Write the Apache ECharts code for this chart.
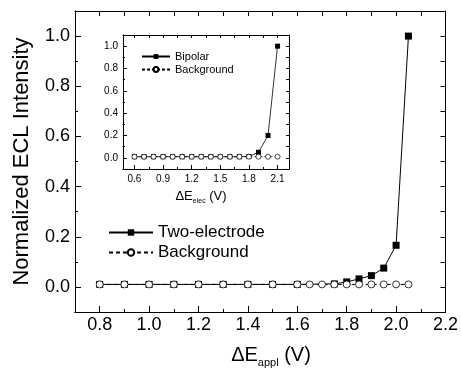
<!DOCTYPE html>
<html><head><meta charset="utf-8">
<script src="https://cdn.jsdelivr.net/npm/echarts@6.0.0/dist/echarts.min.js"></script>
<style>html,body{margin:0;padding:0;background:#fff}#c{width:461px;height:372px}</style>
</head><body><div id="c"></div>
<script>
// ---- data ----
const twoElectrodeX = [0.8, 0.9, 1.0, 1.1, 1.2, 1.3, 1.4, 1.5, 1.6, 1.75, 1.8, 1.85, 1.9, 1.95, 2.0, 2.05];
const twoElectrodeY = [0.01, 0.01, 0.01, 0.01, 0.01, 0.01, 0.01, 0.01, 0.01, 0.012, 0.02, 0.032, 0.045, 0.075, 0.166, 1.0];
const backgroundX = [0.8, 0.9, 1.0, 1.1, 1.2, 1.3, 1.4, 1.5, 1.6, 1.65, 1.7, 1.75, 1.8, 1.85, 1.9, 1.95, 2.0, 2.05];
const backgroundY = [0.01, 0.01, 0.01, 0.01, 0.01, 0.01, 0.01, 0.01, 0.01, 0.01, 0.01, 0.01, 0.01, 0.01, 0.01, 0.01, 0.01, 0.01];
const bipolarX = [0.6, 0.7, 0.8, 0.9, 1.0, 1.1, 1.2, 1.3, 1.4, 1.5, 1.6, 1.7, 1.8, 1.9, 2.0, 2.1];
const bipolarY = [0.01, 0.01, 0.01, 0.01, 0.01, 0.01, 0.01, 0.01, 0.01, 0.01, 0.01, 0.01, 0.012, 0.05, 0.2, 1.0];
const insetBgX = [0.6, 0.7, 0.8, 0.9, 1.0, 1.1, 1.2, 1.3, 1.4, 1.5, 1.6, 1.7, 1.8, 1.9, 2.0, 2.1];
const insetBgY = [0.01, 0.01, 0.01, 0.01, 0.01, 0.01, 0.01, 0.01, 0.01, 0.01, 0.01, 0.01, 0.01, 0.01, 0.01, 0.01];

// ---- tick values ----
const mainXMajor = [0.8, 1.0, 1.2, 1.4, 1.6, 1.8, 2.0, 2.2];
const mainXMinor = [0.7, 0.9, 1.1, 1.3, 1.5, 1.7, 1.9, 2.1];
const mainXTop = [0.8, 0.9, 1.0, 1.1, 1.2, 1.3, 1.4, 1.5, 1.6, 1.7, 1.8, 1.9, 2.0, 2.1];
const mainYMajor = [0.0, 0.2, 0.4, 0.6, 0.8, 1.0];
const mainYMinor = [-0.1, 0.1, 0.3, 0.5, 0.7, 0.9];
const mainYRight = [0.0, 0.1, 0.2, 0.3, 0.4, 0.5, 0.6, 0.7, 0.8, 0.9, 1.0];
const insetXMajor = [0.6, 0.9, 1.2, 1.5, 1.8, 2.1];
const insetXMinor = [0.75, 1.05, 1.35, 1.65, 1.95];
const insetXTop = [0.6, 0.75, 0.9, 1.05, 1.2, 1.35, 1.5, 1.65, 1.8, 1.95, 2.1];
const insetYMajor = [0.0, 0.2, 0.4, 0.6, 0.8, 1.0];
const insetYMinor = [0.1, 0.3, 0.5, 0.7, 0.9];
const insetYRight = [0.0, 0.1, 0.2, 0.3, 0.4, 0.5, 0.6, 0.7, 0.8, 0.9, 1.0];

const FONT = 'Liberation Sans, Arial, sans-serif';
const zip = (xs, ys) => xs.map((x, i) => [x, ys[i]]);

function ax(gridIndex, position, min, max, ticks, len, labels, fontSize, margin, extra) {
  const a = {
    type: 'value', gridIndex, position, min, max,
    axisLine: { show: true, onZero: false, lineStyle: { color: '#000', width: 1 } },
    splitLine: { show: false },
    axisTick: { show: true, inside: true, length: len, customValues: ticks, lineStyle: { color: '#000', width: 1 } },
    axisLabel: labels ? { show: true, customValues: ticks, formatter: v => Number(v).toFixed(1), color: '#000', fontSize, fontFamily: FONT, margin } : { show: false }
  };
  return Object.assign(a, extra || {});
}

const chart = echarts.init(document.getElementById('c'), null, { renderer: 'canvas' });
chart.setOption({
  animation: false,
  backgroundColor: '#fff',
  grid: [
    { left: 75, top: 11, right: 15, bottom: 60 },
    { left: 123, top: 35, right: 172, bottom: 203 }
  ],
  xAxis: [
    ax(0, 'bottom', 0.7, 2.2, mainXMinor, 3, false),
    ax(0, 'bottom', 0.7, 2.2, mainXMajor, 6, true, 18, 4),
    ax(0, 'top', 0.7, 2.2, mainXTop, 5, false),
    ax(1, 'bottom', 0.48, 2.22, insetXMinor, 2, false),
    ax(1, 'bottom', 0.48, 2.22, insetXMajor, 4, true, 10, 5),
    ax(1, 'top', 0.48, 2.22, insetXTop, 3, false)
  ],
  yAxis: [
    ax(0, 'left', -0.1, 1.1, mainYMinor, 3, false),
    ax(0, 'left', -0.1, 1.1, mainYMajor, 6, true, 18, 5, {
      name: 'Normalized ECL Intensity', nameLocation: 'middle', nameGap: 42,
      nameTextStyle: { fontSize: 22, fontFamily: FONT, color: '#000' }
    }),
    ax(0, 'right', -0.1, 1.1, mainYRight, 5, false),
    ax(1, 'left', -0.1, 1.1, insetYMinor, 2, false),
    ax(1, 'left', -0.1, 1.1, insetYMajor, 4, true, 10, 5),
    ax(1, 'right', -0.1, 1.1, insetYRight, 3, false)
  ],
  graphic: [
    {
      type: 'text', x: 271, y: 357,
      style: {
        text: '{a|ΔE}{s|appl}{a| (V)}', align: 'center', verticalAlign: 'middle',
        rich: {
          a: { fontSize: 20, fontFamily: FONT, fill: '#000', verticalAlign: 'top', lineHeight: 23 },
          s: { fontSize: 11, fontFamily: FONT, fill: '#000', verticalAlign: 'bottom', lineHeight: 11, padding: [13, 0, 0, 0] }
        }
      }
    },
    {
      type: 'text', x: 201, y: 197,
      style: {
        text: '{a|ΔE}{s|elec}{a| (V)}', align: 'center', verticalAlign: 'middle',
        rich: {
          a: { fontSize: 13, fontFamily: FONT, fill: '#000', verticalAlign: 'top', lineHeight: 15 },
          s: { fontSize: 7, fontFamily: FONT, fill: '#000', verticalAlign: 'bottom', lineHeight: 8, padding: [9, 0, 0, 0] }
        }
      }
    }
  ],
  legend: [
    {
      data: ['Two-electrode', 'Background'], orient: 'vertical', left: 103, top: 219,
      itemWidth: 44, itemHeight: 8, itemGap: 3, selectedMode: false,
      textStyle: { fontSize: 17, fontFamily: FONT, color: '#000' }
    },
    {
      data: ['Bipolar', 'Background (inset)'], orient: 'vertical', left: 136, top: 46,
      itemWidth: 28, itemHeight: 6, itemGap: 2, selectedMode: false,
      formatter: n => n === 'Background (inset)' ? 'Background' : n,
      textStyle: { fontSize: 11, fontFamily: FONT, color: '#000' }
    }
  ],
  series: [
    {
      name: 'Two-electrode', type: 'line', xAxisIndex: 0, yAxisIndex: 0,
      data: zip(twoElectrodeX, twoElectrodeY), symbol: 'rect', symbolSize: 7,
      itemStyle: { color: '#000' }, lineStyle: { color: '#000', width: 1 }
    },
    {
      name: 'Background', type: 'line', xAxisIndex: 0, yAxisIndex: 0,
      data: zip(backgroundX, backgroundY), symbol: 'circle', symbolSize: 7,
      itemStyle: { color: '#fff', borderColor: '#000', borderWidth: 0.8 },
      lineStyle: { color: '#000', width: 1, type: [4, 3] }
    },
    {
      name: 'Bipolar', type: 'line', xAxisIndex: 3, yAxisIndex: 3,
      data: zip(bipolarX, bipolarY), symbol: 'rect', symbolSize: 5,
      itemStyle: { color: '#000' }, lineStyle: { color: '#000', width: 0.8 }
    },
    {
      name: 'Background (inset)', type: 'line', xAxisIndex: 3, yAxisIndex: 3,
      data: zip(insetBgX, insetBgY), symbol: 'circle', symbolSize: 5,
      itemStyle: { color: '#fff', borderColor: '#000', borderWidth: 0.7 },
      lineStyle: { color: '#000', width: 0.8, type: [3, 2] }
    }
  ]
});
</script>
</body></html>
